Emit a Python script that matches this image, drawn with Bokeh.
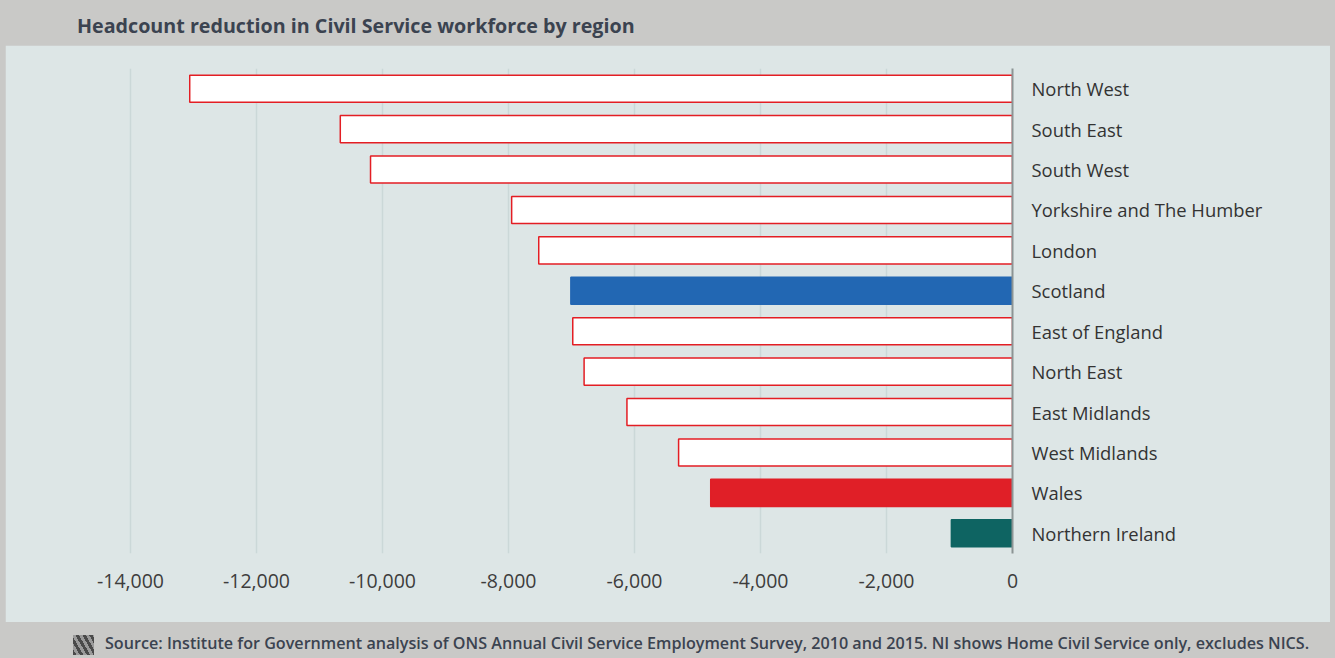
from bokeh.plotting import figure
from bokeh.models import Div, FactorRange, NumeralTickFormatter, FixedTicker, ColumnDataSource
from bokeh.layouts import column
from bokeh.embed import file_html
from bokeh.resources import INLINE

regions = ["North West", "South East", "South West", "Yorkshire and The Humber", "London",
           "Scotland", "East of England", "North East", "East Midlands", "West Midlands",
           "Wales", "Northern Ireland"]
change = [-13060, -10670, -10190, -7950, -7520, -7010, -6980, -6800, -6120, -5300, -4790, -970]
fills = ["white", "white", "white", "white", "white", "#2267b3", "white", "white", "white",
         "white", "#e01f27", "#0e6462"]
outlines = ["#e31e24", "#e31e24", "#e31e24", "#e31e24", "#e31e24", "#2267b3", "#e31e24",
            "#e31e24", "#e31e24", "#e31e24", "#e01f27", "#0e6462"]
ticks = [-14000, -12000, -10000, -8000, -6000, -4000, -2000, 0]

TITLE = "Headcount reduction in Civil Service workforce by region"
SOURCE = ("Source: Institute for Government analysis of ONS Annual Civil Service Employment Survey, "
          "2010 and 2015. NI shows Home Civil Service only, excludes NICS.")

FONT = "Open Sans"
PANEL = "#dde6e6"
BAND = "#c9c9c7"

src = ColumnDataSource(dict(region=regions, change=change, fill=fills, line=outlines,
                            zero=[0] * len(regions)))

p = figure(width=1325, height=577, output_backend="svg", toolbar_location=None,
           y_range=FactorRange(*reversed(regions), range_padding=0),
           x_range=(-15000, 0), y_axis_location="right", margin=(0, 5, 0, 5),
           min_border_left=62, min_border_right=318, min_border_top=23, min_border_bottom=69)
p.background_fill_color = PANEL
p.border_fill_color = PANEL
p.outline_line_color = PANEL
p.outline_line_width = 2

p.hbar(y="region", left="change", right="zero", height=0.67, source=src,
       fill_color="fill", line_color="line", line_width=1.5)

p.xaxis.ticker = FixedTicker(ticks=ticks)
p.xaxis.formatter = NumeralTickFormatter(format="0,0")
p.xaxis.axis_line_color = None
p.xaxis.major_tick_line_color = None
p.xaxis.minor_tick_line_color = None
p.xaxis.major_label_text_font = FONT
p.xaxis.major_label_text_font_size = "19.5px"
p.xaxis.major_label_text_color = "#3d3d3d"
p.xaxis.major_label_standoff = 14

p.yaxis.axis_line_color = "#8c9494"
p.yaxis.axis_line_width = 2
p.yaxis.major_tick_line_color = None
p.yaxis.minor_tick_line_color = None
p.yaxis.major_label_text_font = FONT
p.yaxis.major_label_text_font_size = "18.4px"
p.yaxis.major_label_text_color = "#333333"
p.yaxis.major_label_standoff = 13

p.xgrid.grid_line_color = "#cbd8d8"
p.xgrid.grid_line_width = 1.5
p.ygrid.grid_line_color = None

title = Div(text=TITLE, width=1335, height=45, margin=0,
            styles={"background-color": BAND, "font-family": FONT, "font-weight": "bold",
                    "font-size": "19.7px", "color": "#3b4350", "line-height": "51px",
                    "padding-left": "77px", "box-sizing": "border-box", "white-space": "nowrap",
                    "overflow": "hidden"})

icon = ('<span style="display:inline-block;width:21px;height:20px;vertical-align:middle;'
        'margin-right:11px;background:repeating-linear-gradient(60deg,#4a4a4a 0 3px,#9a9a9a 3px 6px);"></span>')
footer = Div(text=icon + SOURCE, width=1335, height=36, margin=0,
             styles={"background-color": BAND, "font-family": FONT, "font-weight": "600",
                     "font-size": "16.15px", "color": "#3b4350", "line-height": "42px",
                     "padding-left": "73px", "box-sizing": "border-box", "white-space": "nowrap",
                     "overflow": "hidden"})

layout = column(title, p, footer, spacing=0, margin=0, styles={"background-color": BAND})

open("out.html", "w").write(file_html(layout, INLINE))
